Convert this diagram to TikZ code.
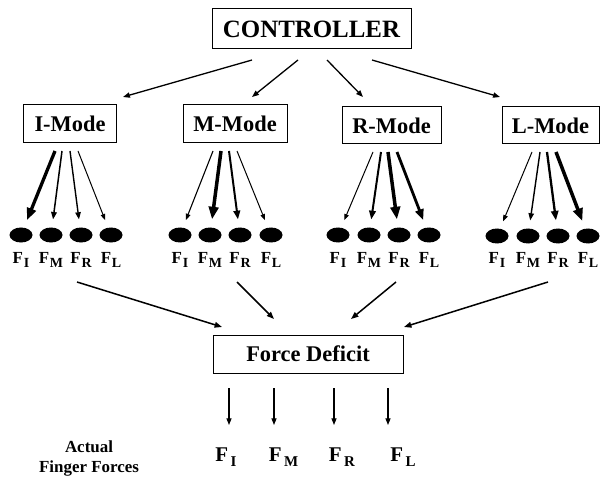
\documentclass[tikz,border=0pt]{standalone}
\usepackage{fontspec}
\setmainfont{Liberation Serif}
\usetikzlibrary{arrows.meta,shapes.geometric,calc}
\newcommand\smallF[1]{{\fontsize{17}{17}\selectfont F}\kern0.8bp\raisebox{-4bp}{\fontsize{14}{14}\selectfont #1}}
\newcommand\bigF[1]{{\fontsize{21}{21}\selectfont F}\kern2.5bp\raisebox{-5bp}{\fontsize{15}{15}\selectfont #1}}
\begin{document}
\begin{tikzpicture}[x=1bp,y=-1bp,
  box/.style={draw,line width=1bp,inner sep=0pt,font=\bfseries\fontsize{22.5}{26}\selectfont,minimum height=37bp},
  finger/.style={ellipse,fill=black,inner sep=0pt,minimum width=23bp,minimum height=15bp},
  lab/.style={font=\bfseries,anchor=base,inner sep=0pt},
  fa/.style={line width=#1,-{Triangle[length=3.5bp 2.6,width=2.6bp 2]},shorten >=8bp},
  ca/.style={line width=1.3bp,-{Triangle[length=3.5bp 2.6,width=2.6bp 2]}}
]
\useasboundingbox (0,0) rectangle (610,485);

% boxes
\node[box,minimum width=199bp,minimum height=40bp,font=\bfseries\fontsize{25}{28}\selectfont] (ctrl) at (311.5,29) {CONTROLLER};
\node[box,minimum width=93bp,minimum height=38bp] (im) at (70,124) {I-Mode};
\node[box,minimum width=104bp,minimum height=38bp] (mm) at (235,124) {M-Mode};
\node[box,minimum width=99bp] (rm) at (391.5,125.5) {R-Mode};
\node[box,minimum width=97bp] (lm) at (550.5,125.5) {L-Mode};
\node[box,minimum width=190bp,minimum height=38bp] (fd) at (308,354) {Force Deficit};

% controller arrows
\coordinate (c1) at (252,60); \coordinate (t1) at (123,97);
\coordinate (c2) at (298,60); \coordinate (t2) at (252,97);
\coordinate (c3) at (327,60); \coordinate (t3) at (363,97);
\coordinate (c4) at (372,60); \coordinate (t4) at (500,97);
\foreach \i in {1,...,4} \draw[ca] (c\i) -- (t\i);

% finger ellipses and labels
\foreach \g/\y/\xa/\xb/\xc/\xd in {I/235/21/51/81/111, M/235/180/210/240/271, R/235/338/369/399/429, L/236/497/528/558/588}{
  \node[finger] (\g1) at (\xa,\y) {};
  \node[finger] (\g2) at (\xb,\y) {};
  \node[finger] (\g3) at (\xc,\y) {};
  \node[finger] (\g4) at (\xd,\y) {};
  \node[lab] (\g l1) at (\xa,263.5) {\smallF{I}};
  \node[lab] (\g l2) at (\xb,263.5) {\smallF{M}};
  \node[lab] (\g l3) at (\xc,263.5) {\smallF{R}};
  \node[lab] (\g l4) at (\xd,263.5) {\smallF{L}};
}

% mode arrows: start points
\foreach \g/\y/\xa/\xb/\xc/\xd in {I/151/55/62/70/78, M/151/213/221/229/237, R/152/373/381/388/397, L/152/532/540/547/556}{
  \coordinate (s\g1) at (\xa,\y);
  \coordinate (s\g2) at (\xb,\y);
  \coordinate (s\g3) at (\xc,\y);
  \coordinate (s\g4) at (\xd,\y);
}
\draw[fa=3.3bp] (sI1) -- (I1);
\draw[fa=1.5bp] (sI2) -- (I2);
\draw[fa=1.4bp] (sI3) -- (I3);
\draw[fa=1bp]   (sI4) -- (I4);
\draw[fa=1.1bp] (sM1) -- (M1);
\draw[fa=3.5bp] (sM2) -- (M2);
\draw[fa=2bp]   (sM3) -- (M3);
\draw[fa=1bp]   (sM4) -- (M4);
\draw[fa=1bp]   (sR1) -- (R1);
\draw[fa=2bp]   (sR2) -- (R2);
\draw[fa=3.5bp] (sR3) -- (R3);
\draw[fa=2.8bp] (sR4) -- (R4);
\draw[fa=1bp]   (sL1) -- (L1);
\draw[fa=1.4bp] (sL2) -- (L2);
\draw[fa=2.3bp] (sL3) -- (L3);
\draw[fa=3.5bp] (sL4) -- (L4);

% arrows into Force Deficit
\coordinate (b1) at (77,282);  \coordinate (e1) at (222,327);
\coordinate (b2) at (237,282); \coordinate (e2) at (274,319);
\coordinate (b3) at (396,282); \coordinate (e3) at (351,319);
\coordinate (b4) at (548,282); \coordinate (e4) at (404,327);
\foreach \i in {1,...,4} \draw[ca,line width=1.5bp] (b\i) -- (e\i);

% down arrows
\foreach \i/\x in {1/229,2/274,3/334,4/388}{
  \coordinate (d\i) at (\x,388);
  \coordinate (u\i) at (\x,425);
  \draw[ca,line width=1.2bp] (d\i) -- (u\i);
}

% actual finger forces
\node[lab] (aI) at (226,461) {\bigF{I}};
\node[lab] (aM) at (283.5,461) {\bigF{M}};
\node[lab] (aR) at (342,461) {\bigF{R}};
\node[lab] (aL) at (403,461) {\bigF{L}};
\node[lab,font=\bfseries\fontsize{17}{20}\selectfont] (act1) at (89,452) {Actual};
\node[lab,font=\bfseries\fontsize{17}{20}\selectfont] (act2) at (89,472) {Finger Forces};
\end{tikzpicture}
\end{document}
